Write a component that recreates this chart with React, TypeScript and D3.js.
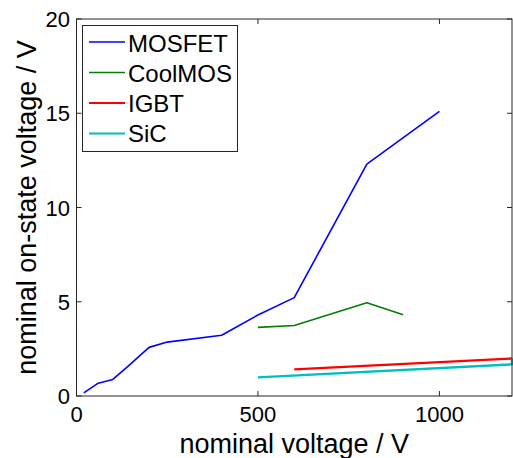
import React from "react";
import * as d3 from "d3";

const mosfetV = [20, 60, 100, 140, 200, 250, 400, 500, 600, 800, 1000];
const mosfetU = [0.17, 0.68, 0.88, 1.55, 2.58, 2.86, 3.22, 4.3, 5.22, 12.3, 15.1];
const coolmosV = [500, 600, 800, 900];
const coolmosU = [3.64, 3.74, 4.95, 4.31];
const igbtV = [600, 1200];
const igbtU = [1.41, 1.99];
const sicV = [500, 1200, 1200];
const sicU = [0.99, 1.68, 2.0];

const seriesNames = ["MOSFET", "CoolMOS", "IGBT", "SiC"];
const seriesColors = ["#0000ff", "#008000", "#ff0000", "#00bfbf"];
const seriesWidths = [1.6, 1.6, 2.4, 2.4];
const xTicks = [0, 500, 1000];
const yTicks = [0, 5, 10, 15, 20];

const W = 513, H = 458;
const L = 76.5, R = 512, T = 19, B = 396;

export default function App() {
  const x = d3.scaleLinear().domain([0, 1200]).range([L, R]);
  const y = d3.scaleLinear().domain([0, 20]).range([B, T]);
  const line = d3.line<[number, number]>().x(d => x(d[0])).y(d => y(d[1]));
  const series = [
    d3.zip(mosfetV, mosfetU),
    d3.zip(coolmosV, coolmosU),
    d3.zip(igbtV, igbtU),
    d3.zip(sicV, sicU),
  ] as [number, number][][];
  const font = "'Liberation Sans', Arial, Helvetica, sans-serif";
  const tl = 5;
  return (
    <svg width={W} height={H} style={{ position: "absolute", left: 0, top: 0 }} fontFamily={font}>
      <rect x={0} y={0} width={W} height={H} fill="#fff" />
      {series.map((s, i) => (
        <path key={i} d={line(s) || ""} fill="none" stroke={seriesColors[i]} strokeWidth={seriesWidths[i]} strokeLinejoin="round" />
      ))}
      <rect x={L} y={T} width={R - L} height={B - T} fill="none" stroke="#262626" strokeWidth={1} />
      {xTicks.map(t => (
        <g key={"x" + t}>
          <line x1={x(t)} x2={x(t)} y1={B} y2={B - tl} stroke="#262626" />
          <line x1={x(t)} x2={x(t)} y1={T} y2={T + tl} stroke="#262626" />
          <text x={x(t)} y={422} textAnchor="middle" fontSize={22} fill="#000">{t}</text>
        </g>
      ))}
      {yTicks.map(t => (
        <g key={"y" + t}>
          <line x1={L} x2={L + tl} y1={y(t)} y2={y(t)} stroke="#262626" />
          <line x1={R} x2={R - tl} y1={y(t)} y2={y(t)} stroke="#262626" />
          <text x={70} y={y(t) + 8} textAnchor="end" fontSize={22} fill="#000">{t}</text>
        </g>
      ))}
      <text x={(L + R) / 2} y={453} textAnchor="middle" fontSize={27} fill="#000">nominal voltage / V</text>
      <text transform={`translate(36,${(T + B) / 2}) rotate(-90)`} textAnchor="middle" fontSize={27} fill="#000">nominal on-state voltage / V</text>
      <rect x={82.5} y={25.5} width={155} height={126} fill="#fff" stroke="#262626" />
      {seriesNames.map((n, i) => (
        <g key={n}>
          <line x1={89} x2={125} y1={42 + i * 30.5} y2={42 + i * 30.5} stroke={seriesColors[i]} strokeWidth={seriesWidths[i] * 0.8} />
          <text x={128} y={51.5 + i * 30} fontSize={24} fill="#000">{n}</text>
        </g>
      ))}
    </svg>
  );
}
